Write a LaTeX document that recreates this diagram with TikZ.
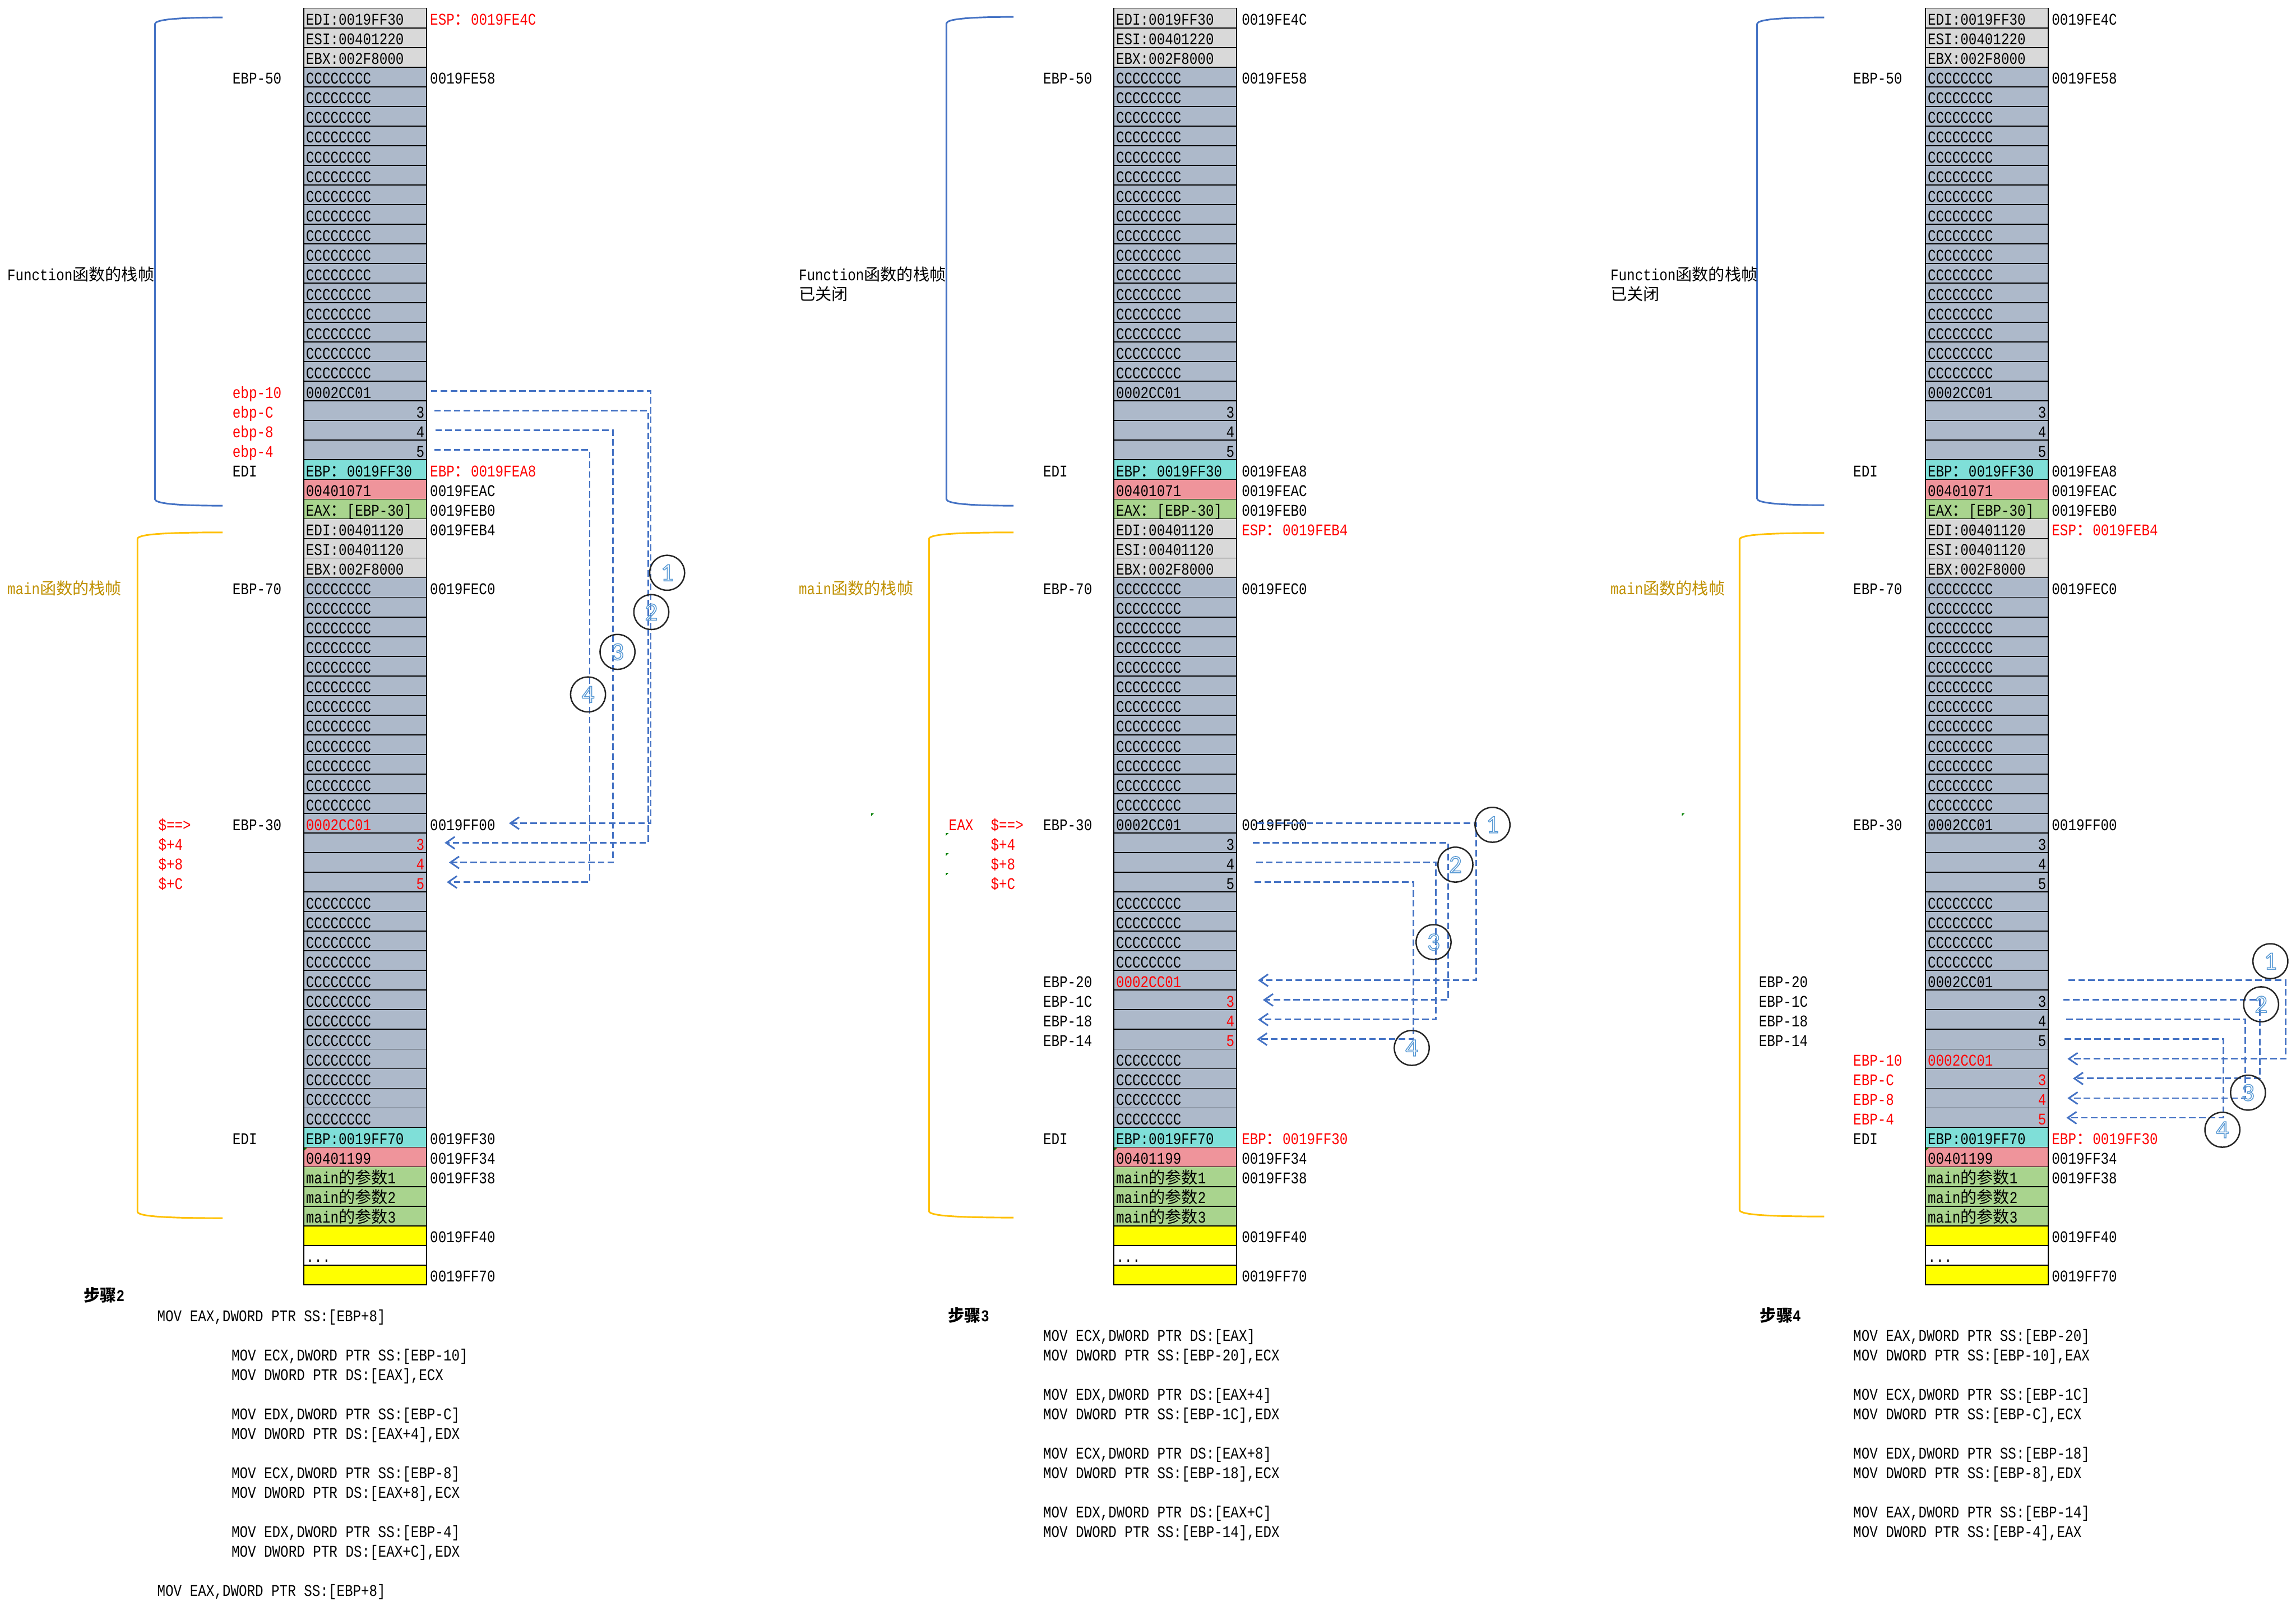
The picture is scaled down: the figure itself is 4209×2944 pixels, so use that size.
\documentclass[tikz,border=0pt]{standalone}
\usepackage{fontspec}
\setmainfont[FakeStretch=0.83]{Liberation Mono}
\newfontfamily\cjk{Noto Sans CJK SC}
\newfontfamily\numfont{Carlito}
\usetikzlibrary{arrows.meta}
\definecolor{cgray}{HTML}{D9D9D9}
\definecolor{cbg}{HTML}{ADB9CA}
\definecolor{ccyan}{HTML}{7FDFD8}
\definecolor{cpink}{HTML}{EF949B}
\definecolor{cgreen}{HTML}{A9D48E}
\definecolor{cyel}{HTML}{FFFF00}
\definecolor{cred}{HTML}{FF0000}
\definecolor{cblue}{HTML}{4472C4}
\definecolor{cgold}{HTML}{FFC000}
\definecolor{cgoldtxt}{HTML}{BF9000}
\definecolor{cring}{HTML}{262626}
\definecolor{cmark}{HTML}{008000}
\newcommand\fs{\fontsize{15pt}{18pt}\selectfont}
\newcommand\outl[1]{\special{pdf:literal direct 1 Tr 0.8 w 0.357 0.608 0.835 RG}#1\special{pdf:literal direct 0 Tr}}
\tikzset{
 cell/.style={draw=black,line width=0.9pt,anchor=north west,text width=108.5pt,inner xsep=2pt,inner ysep=0pt,outer sep=0pt,text height=15.5pt,text depth=2.5pt,font=\fs},
 lab/.style={anchor=base west,inner sep=0pt,font=\fs},
 dl/.style={draw=cblue,line width=1.5pt,dash pattern=on 6pt off 3pt,-{Straight Barb[length=8pt,width=11pt]}},
 circ/.style={circle,draw=cring,line width=1.3pt,minimum size=32pt,inner sep=0pt,font=\numfont\fontsize{23pt}{23pt}\selectfont},
 brk/.style={line width=1.5pt},
 gmark/.style={fill=cmark,draw=none}
}
% cell: id, x, row, fill, align, text
\newcommand\mc[6]{\node[cell,fill=#4,align=#5] (#1c#3) at (#2,{36*#3-21}) {#6};}
% label: name, x, row, text, color
\newcommand\lb[5]{\node[lab,text=#5] (#1) at (#2,{36*#3+10}) {#4};}
% bracket: color, xv, xe, ytop, ybot
\newcommand\brk[5]{\draw[brk,draw=#1] (#3,#4) .. controls ({#2+40},#4) and (#2,{#4+4}) .. (#2,{#4+12}) -- (#2,{#5-12}) .. controls (#2,{#5-4}) and ({#2+40},#5) .. (#3,#5);}
% tiny green indicator
\newcommand\gm[2]{\fill[gmark] (#1,#2) -- ++(5,0) -- ++(-5,5) -- cycle;}
% group of 0002CC01,3,4,5 : id, x, row0..row3, color
\newcommand\grp[7]{%
 \mc{#1}{#2}{#3}{cbg}{left}{\color{#7}0002CC01}
 \mc{#1}{#2}{#4}{cbg}{right}{\color{#7}3}
 \mc{#1}{#2}{#5}{cbg}{right}{\color{#7}4}
 \mc{#1}{#2}{#6}{cbg}{right}{\color{#7}5}}
\newcommand\panelbase[2]{%
 \mc{#1}{#2}{1}{cgray}{left}{EDI:0019FF30}
 \mc{#1}{#2}{2}{cgray}{left}{ESI:00401220}
 \mc{#1}{#2}{3}{cgray}{left}{EBX:002F8000}
 \foreach \r in {4,...,19}{\mc{#1}{#2}{\r}{cbg}{left}{CCCCCCCC}}
 \grp{#1}{#2}{20}{21}{22}{23}{black}
 \mc{#1}{#2}{24}{ccyan}{left}{EBP{\cjk ：}0019FF30}
 \mc{#1}{#2}{25}{cpink}{left}{00401071}
 \mc{#1}{#2}{26}{cgreen}{left}{EAX{\cjk ：}[EBP-30]}
 \mc{#1}{#2}{27}{cgray}{left}{EDI:00401120}
 \mc{#1}{#2}{28}{cgray}{left}{ESI:00401120}
 \mc{#1}{#2}{29}{cgray}{left}{EBX:002F8000}
 \foreach \r in {30,...,41}{\mc{#1}{#2}{\r}{cbg}{left}{CCCCCCCC}}
 \mc{#1}{#2}{58}{ccyan}{left}{EBP:0019FF70}
 \mc{#1}{#2}{59}{cpink}{left}{00401199}
 \mc{#1}{#2}{60}{cgreen}{left}{main{\cjk 的参数}1}
 \mc{#1}{#2}{61}{cgreen}{left}{main{\cjk 的参数}2}
 \mc{#1}{#2}{62}{cgreen}{left}{main{\cjk 的参数}3}
 \mc{#1}{#2}{63}{cyel}{left}{}
 \mc{#1}{#2}{64}{white}{left}{...}
 \mc{#1}{#2}{65}{cyel}{left}{}
 \gm{#2+1}{2104}}
\begin{document}
\begin{tikzpicture}[x=0.5pt,y=-0.5pt]
\useasboundingbox (0,0) rectangle (4209,2944);
% ================= panel 1 =================
\brk{cblue}{284}{408}{32}{927}
\brk{cgold}{252}{408}{976}{2233}
\node[lab,anchor=base west] (p1fn) at (13,{36*14+10}) {Function{\cjk 函数的栈帧}};
\node[lab,anchor=base west,text=cgoldtxt] (p1mn) at (13,{36*30+10}) {main{\cjk 函数的栈帧}};
\panelbase{p1}{557}
\grp{p1}{557}{42}{43}{44}{45}{cred}
\foreach \r in {46,...,57}{\mc{p1}{557}{\r}{cbg}{left}{CCCCCCCC}}
\lb{p1l4}{426}{4}{EBP-50}{black}
\lb{p1l20}{426}{20}{ebp-10}{cred}
\lb{p1l21}{426}{21}{ebp-C}{cred}
\lb{p1l22}{426}{22}{ebp-8}{cred}
\lb{p1l23}{426}{23}{ebp-4}{cred}
\lb{p1l24}{426}{24}{EDI}{black}
\lb{p1l30}{426}{30}{EBP-70}{black}
\lb{p1l42}{426}{42}{EBP-30}{black}
\lb{p1l58}{426}{58}{EDI}{black}
\lb{p1s42}{290}{42}{\$==>}{cred}
\lb{p1s43}{290}{43}{\$+4}{cred}
\lb{p1s44}{290}{44}{\$+8}{cred}
\lb{p1s45}{290}{45}{\$+C}{cred}
\lb{p1r1}{788}{1}{ESP{\cjk ：}0019FE4C}{cred}
\lb{p1r4}{788}{4}{0019FE58}{black}
\lb{p1r24}{788}{24}{EBP{\cjk ：}0019FEA8}{cred}
\lb{p1r25}{788}{25}{0019FEAC}{black}
\lb{p1r26}{788}{26}{0019FEB0}{black}
\lb{p1r27}{788}{27}{0019FEB4}{black}
\lb{p1r30}{788}{30}{0019FEC0}{black}
\lb{p1r42}{788}{42}{0019FF00}{black}
\lb{p1r58}{788}{58}{0019FF30}{black}
\lb{p1r59}{788}{59}{0019FF34}{black}
\lb{p1r60}{788}{60}{0019FF38}{black}
\lb{p1r63}{788}{63}{0019FF40}{black}
\lb{p1r65}{788}{65}{0019FF70}{black}
\coordinate (p1v1) at (1193,0);
\coordinate (p1v2) at (1188,0);
\coordinate (p1v3) at (1124,0);
\coordinate (p1v4) at (1081,0);
\draw[dl] ([xshift=4pt]p1c20.east) -- (p1c20.east -| p1v1) -- (p1v1 |- p1c42.east) -- ([xshift=75.5pt]p1c42.east);
\draw[dl] ([xshift=7pt]p1c21.east) -- (p1c21.east -| p1v2) -- (p1v2 |- p1c43.east) -- ([xshift=16.5pt]p1c43.east);
\draw[dl] ([xshift=8pt]p1c22.east) -- (p1c22.east -| p1v3) -- (p1v3 |- p1c44.east) -- ([xshift=20.5pt]p1c44.east);
\draw[dl] ([xshift=7pt]p1c23.east) -- (p1c23.east -| p1v4) -- (p1v4 |- p1c45.east) -- ([xshift=18.5pt]p1c45.east);
\node[circ] (p1n1) at (1223,1050) {\outl{1}};
\node[circ] (p1n2) at (1194,1122) {\outl{2}};
\node[circ] (p1n3) at (1132,1195) {\outl{3}};
\node[circ] (p1n4) at (1078,1273) {\outl{4}};
\node[lab,font=\fs\bfseries] (p1st) at (153,{36*66+10}) {{\cjk 步骤}2};
\lb{p1k1}{288}{67}{MOV EAX,DWORD PTR SS:[EBP+8]}{black}
\lb{p1k2}{424}{69}{MOV ECX,DWORD PTR SS:[EBP-10]}{black}
\lb{p1k3}{424}{70}{MOV DWORD PTR DS:[EAX],ECX}{black}
\lb{p1k4}{424}{72}{MOV EDX,DWORD PTR SS:[EBP-C]}{black}
\lb{p1k5}{424}{73}{MOV DWORD PTR DS:[EAX+4],EDX}{black}
\lb{p1k6}{424}{75}{MOV ECX,DWORD PTR SS:[EBP-8]}{black}
\lb{p1k7}{424}{76}{MOV DWORD PTR DS:[EAX+8],ECX}{black}
\lb{p1k8}{424}{78}{MOV EDX,DWORD PTR SS:[EBP-4]}{black}
\lb{p1k9}{424}{79}{MOV DWORD PTR DS:[EAX+C],EDX}{black}
\lb{p1k10}{288}{81}{MOV EAX,DWORD PTR SS:[EBP+8]}{black}
% ================= panel 2 =================
\brk{cblue}{1735}{1858}{31}{927}
\brk{cgold}{1703}{1858}{976}{2232}
\node[lab,anchor=base west] (p2fn) at (1464,{36*14+10}) {Function{\cjk 函数的栈帧}};
\node[lab,anchor=base west] (p2fc) at (1464,{36*15+10}) {{\cjk 已关闭}};
\node[lab,anchor=base west,text=cgoldtxt] (p2mn) at (1464,{36*30+10}) {main{\cjk 函数的栈帧}};
\panelbase{p2}{2042}
\grp{p2}{2042}{42}{43}{44}{45}{black}
\foreach \r in {46,...,49,54,55,56,57}{\mc{p2}{2042}{\r}{cbg}{left}{CCCCCCCC}}
\grp{p2}{2042}{50}{51}{52}{53}{cred}
\lb{p2l4}{1912}{4}{EBP-50}{black}
\lb{p2l24}{1912}{24}{EDI}{black}
\lb{p2l30}{1912}{30}{EBP-70}{black}
\lb{p2l42}{1912}{42}{EBP-30}{black}
\lb{p2l50}{1912}{50}{EBP-20}{black}
\lb{p2l51}{1912}{51}{EBP-1C}{black}
\lb{p2l52}{1912}{52}{EBP-18}{black}
\lb{p2l53}{1912}{53}{EBP-14}{black}
\lb{p2l58}{1912}{58}{EDI}{black}
\lb{p2e42}{1739}{42}{EAX}{cred}
\lb{p2s42}{1816}{42}{\$==>}{cred}
\lb{p2s43}{1816}{43}{\$+4}{cred}
\lb{p2s44}{1816}{44}{\$+8}{cred}
\lb{p2s45}{1816}{45}{\$+C}{cred}
\gm{1597}{1491}
\gm{1734}{1527}
\gm{1734}{1564}
\gm{1734}{1600}
\lb{p2r1}{2276}{1}{0019FE4C}{black}
\lb{p2r4}{2276}{4}{0019FE58}{black}
\lb{p2r24}{2276}{24}{0019FEA8}{black}
\lb{p2r25}{2276}{25}{0019FEAC}{black}
\lb{p2r26}{2276}{26}{0019FEB0}{black}
\lb{p2r27}{2276}{27}{ESP{\cjk ：}0019FEB4}{cred}
\lb{p2r30}{2276}{30}{0019FEC0}{black}
\lb{p2r42}{2276}{42}{0019FF00}{black}
\lb{p2r58}{2276}{58}{EBP{\cjk ：}0019FF30}{cred}
\lb{p2r59}{2276}{59}{0019FF34}{black}
\lb{p2r60}{2276}{60}{0019FF38}{black}
\lb{p2r63}{2276}{63}{0019FF40}{black}
\lb{p2r65}{2276}{65}{0019FF70}{black}
\coordinate (p2v1) at (2706,0);
\coordinate (p2v2) at (2655,0);
\coordinate (p2v3) at (2632,0);
\coordinate (p2v4) at (2591,0);
\draw[dl] ([xshift=19pt]p2c42.east) -- (p2c42.east -| p2v1) -- (p2v1 |- p2c50.east) -- ([xshift=19.5pt]p2c50.east);
\draw[dl] ([xshift=15pt]p2c43.east) -- (p2c43.east -| p2v2) -- (p2v2 |- p2c51.east) -- ([xshift=24pt]p2c51.east);
\draw[dl] ([xshift=18pt]p2c44.east) -- (p2c44.east -| p2v3) -- (p2v3 |- p2c52.east) -- ([xshift=19.5pt]p2c52.east);
\draw[dl] ([xshift=16.5pt]p2c45.east) -- (p2c45.east -| p2v4) -- (p2v4 |- p2c53.east) -- ([xshift=18.5pt]p2c53.east);
\node[circ] (p2n1) at (2736,1512) {\outl{1}};
\node[circ] (p2n2) at (2668,1585) {\outl{2}};
\node[circ] (p2n3) at (2628,1727) {\outl{3}};
\node[circ] (p2n4) at (2588,1921) {\outl{4}};
\node[lab,font=\fs\bfseries] (p2st) at (1738,{36*67+10}) {{\cjk 步骤}3};
\lb{p2k1}{1912}{68}{MOV ECX,DWORD PTR DS:[EAX]}{black}
\lb{p2k2}{1912}{69}{MOV DWORD PTR SS:[EBP-20],ECX}{black}
\lb{p2k3}{1912}{71}{MOV EDX,DWORD PTR DS:[EAX+4]}{black}
\lb{p2k4}{1912}{72}{MOV DWORD PTR SS:[EBP-1C],EDX}{black}
\lb{p2k5}{1912}{74}{MOV ECX,DWORD PTR DS:[EAX+8]}{black}
\lb{p2k6}{1912}{75}{MOV DWORD PTR SS:[EBP-18],ECX}{black}
\lb{p2k7}{1912}{77}{MOV EDX,DWORD PTR DS:[EAX+C]}{black}
\lb{p2k8}{1912}{78}{MOV DWORD PTR SS:[EBP-14],EDX}{black}
% ================= panel 3 =================
\brk{cblue}{3221}{3344}{32}{926}
\brk{cgold}{3189}{3344}{977}{2230}
\node[lab,anchor=base west] (p3fn) at (2952,{36*14+10}) {Function{\cjk 函数的栈帧}};
\node[lab,anchor=base west] (p3fc) at (2952,{36*15+10}) {{\cjk 已关闭}};
\node[lab,anchor=base west,text=cgoldtxt] (p3mn) at (2952,{36*30+10}) {main{\cjk 函数的栈帧}};
\panelbase{p3}{3530}
\grp{p3}{3530}{42}{43}{44}{45}{black}
\foreach \r in {46,...,49}{\mc{p3}{3530}{\r}{cbg}{left}{CCCCCCCC}}
\grp{p3}{3530}{50}{51}{52}{53}{black}
\grp{p3}{3530}{54}{55}{56}{57}{cred}
\gm{3083}{1491}
\lb{p3l4}{3397}{4}{EBP-50}{black}
\lb{p3l24}{3397}{24}{EDI}{black}
\lb{p3l30}{3397}{30}{EBP-70}{black}
\lb{p3l42}{3397}{42}{EBP-30}{black}
\lb{p3l50}{3224}{50}{EBP-20}{black}
\lb{p3l51}{3224}{51}{EBP-1C}{black}
\lb{p3l52}{3224}{52}{EBP-18}{black}
\lb{p3l53}{3224}{53}{EBP-14}{black}
\lb{p3l54}{3397}{54}{EBP-10}{cred}
\lb{p3l55}{3397}{55}{EBP-C}{cred}
\lb{p3l56}{3397}{56}{EBP-8}{cred}
\lb{p3l57}{3397}{57}{EBP-4}{cred}
\lb{p3l58}{3397}{58}{EDI}{black}
\lb{p3r1}{3761}{1}{0019FE4C}{black}
\lb{p3r4}{3761}{4}{0019FE58}{black}
\lb{p3r24}{3761}{24}{0019FEA8}{black}
\lb{p3r25}{3761}{25}{0019FEAC}{black}
\lb{p3r26}{3761}{26}{0019FEB0}{black}
\lb{p3r27}{3761}{27}{ESP{\cjk ：}0019FEB4}{cred}
\lb{p3r30}{3761}{30}{0019FEC0}{black}
\lb{p3r42}{3761}{42}{0019FF00}{black}
\lb{p3r58}{3761}{58}{EBP{\cjk ：}0019FF30}{cred}
\lb{p3r59}{3761}{59}{0019FF34}{black}
\lb{p3r60}{3761}{60}{0019FF38}{black}
\lb{p3r63}{3761}{63}{0019FF40}{black}
\lb{p3r65}{3761}{65}{0019FF70}{black}
\coordinate (p3v1) at (4190,0);
\coordinate (p3v2) at (4143,0);
\coordinate (p3v3) at (4116,0);
\coordinate (p3v4) at (4076,0);
\draw[dl] ([xshift=18.5pt]p3c50.east) -- (p3c50.east -| p3v1) -- (p3v1 |- p3c54.east) -- ([xshift=17.5pt]p3c54.east);
\draw[dl] ([xshift=13.5pt]p3c51.east) -- (p3c51.east -| p3v2) -- (p3v2 |- p3c55.east) -- ([xshift=22.5pt]p3c55.east);
\draw[dl] ([xshift=16.5pt]p3c52.east) -- (p3c52.east -| p3v3) -- (p3v3 |- p3c56.east) -- ([xshift=17.5pt]p3c56.east);
\draw[dl] ([xshift=15pt]p3c53.east) -- (p3c53.east -| p3v4) -- (p3v4 |- p3c57.east) -- ([xshift=16.5pt]p3c57.east);
\node[circ] (p3n1) at (4162,1762) {\outl{1}};
\node[circ] (p3n2) at (4145,1841) {\outl{2}};
\node[circ] (p3n3) at (4121,2003) {\outl{3}};
\node[circ] (p3n4) at (4074,2071) {\outl{4}};
\node[lab,font=\fs\bfseries] (p3st) at (3226,{36*67+10}) {{\cjk 步骤}4};
\lb{p3k1}{3397}{68}{MOV EAX,DWORD PTR SS:[EBP-20]}{black}
\lb{p3k2}{3397}{69}{MOV DWORD PTR SS:[EBP-10],EAX}{black}
\lb{p3k3}{3397}{71}{MOV ECX,DWORD PTR SS:[EBP-1C]}{black}
\lb{p3k4}{3397}{72}{MOV DWORD PTR SS:[EBP-C],ECX}{black}
\lb{p3k5}{3397}{74}{MOV EDX,DWORD PTR SS:[EBP-18]}{black}
\lb{p3k6}{3397}{75}{MOV DWORD PTR SS:[EBP-8],EDX}{black}
\lb{p3k7}{3397}{77}{MOV EAX,DWORD PTR SS:[EBP-14]}{black}
\lb{p3k8}{3397}{78}{MOV DWORD PTR SS:[EBP-4],EAX}{black}
\end{tikzpicture}
\end{document}
